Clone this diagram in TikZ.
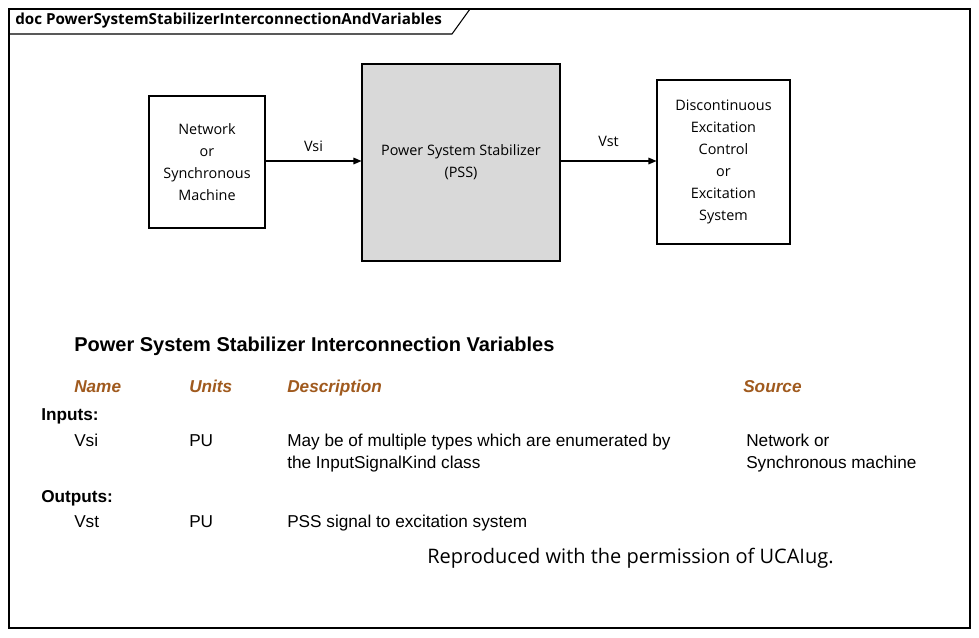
\documentclass[tikz,border=0pt]{standalone}
\usepackage{fontspec}
\setmainfont{Liberation Sans}
\newfontfamily\seg{Open Sans}
\usetikzlibrary{arrows.meta}
\definecolor{hdr}{RGB}{160,90,30}
\begin{document}
\begin{tikzpicture}[x=0.75pt,y=-0.75pt,
  box/.style={draw,line width=0.8pt,align=center,font=\seg\fontsize{10.8}{16.5}\selectfont,inner sep=0},
  arr/.style={-{Triangle[length=6pt,width=5pt]},line width=0.8pt},
  t/.style={anchor=base west,inner sep=0,font=\fontsize{12.9}{16}\selectfont},
  h/.style={t,font=\fontsize{12.9}{16}\selectfont\bfseries\itshape,text=hdr}]
\useasboundingbox (0,0) rectangle (979,637);
\fill[white] (0,0) rectangle (979,637);
\draw[line width=0.8pt] (9,9) rectangle (970,628);
\draw[line width=0.8pt] (9,34) -- (452,34) -- (470,9);
\node[anchor=west,inner sep=0,font=\seg\fontsize{11.4}{12}\selectfont\bfseries] (hd) at (15,21) {doc PowerSystemStabilizerInterconnectionAndVariables};
\node[box,minimum width=116*0.75pt,minimum height=132*0.75pt] (net) at (207,162) {Network\\or\\Synchronous\\Machine};
\node[box,fill=black!15,minimum width=198*0.75pt,minimum height=197*0.75pt] (pss) at (461,162.5) {Power System Stabilizer\\(PSS)};
\node[box,minimum width=133*0.75pt,minimum height=164*0.75pt] (exc) at (723.5,162) {Discontinuous\\Excitation\\Control\\or\\Excitation\\System};
\draw[arr] (net.east |- 0,161) -- node[above=3pt,font=\seg\fontsize{10.8}{12}\selectfont] (l1) {Vsi} (pss.west |- 0,161);
\draw[arr] (pss.east |- 0,161) -- node[above=7pt,font=\seg\fontsize{10.8}{12}\selectfont] (l2) {Vst} (exc.west |- 0,161);
\node[t,font=\fontsize{15}{16}\selectfont\bfseries] (ti) at (74,351) {Power System Stabilizer Interconnection Variables};
\node[h] (hn) at (74,392) {Name};
\node[h] (hu) at (189,392) {Units};
\node[h] (hdsc) at (287,392) {Description};
\node[h] (hs) at (743,392) {Source};
\node[t,font=\fontsize{12.9}{16}\selectfont\bfseries] (in) at (41,420) {Inputs:};
\node[t] (v1) at (74,446) {Vsi};
\node[t] (u1) at (189,446) {PU};
\node[t] (d1) at (287,446) {May be of multiple types which are enumerated by};
\node[t] (d1b) at (287,468) {the InputSignalKind class};
\node[t] (s1) at (746,446) {Network or};
\node[t] (s1b) at (746,468) {Synchronous machine};
\node[t,font=\fontsize{12.9}{16}\selectfont\bfseries] (out) at (41,502) {Outputs:};
\node[t] (v2) at (74,527) {Vst};
\node[t] (u2) at (189,527) {PU};
\node[t] (d2) at (287,527) {PSS signal to excitation system};
\node[anchor=base west,inner sep=0,font=\seg\fontsize{15}{16}\selectfont] (rep) at (427,563) {Reproduced with the permission of UCAIug.};
\end{tikzpicture}
\end{document}
